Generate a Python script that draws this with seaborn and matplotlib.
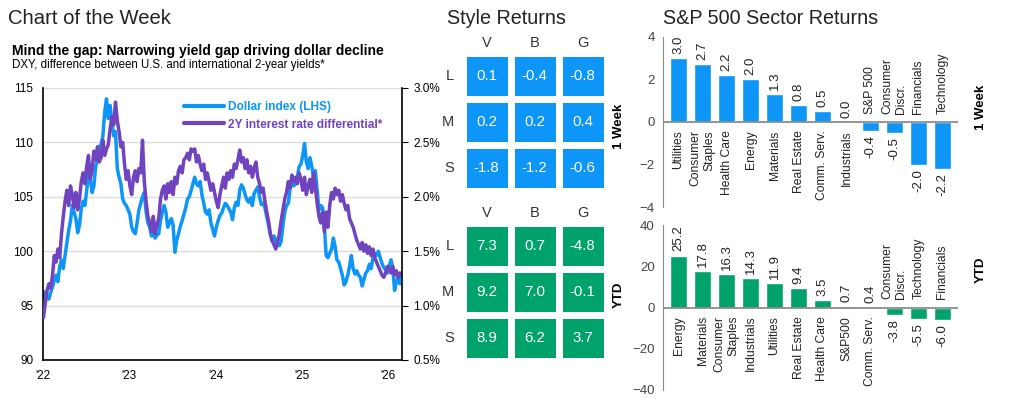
import matplotlib
matplotlib.use("Agg")
import matplotlib.pyplot as plt
from matplotlib.colors import ListedColormap
from matplotlib.lines import Line2D
import pandas as pd
import seaborn as sns

# ---- datos ----
# DXY (LHS), ~4 lecturas por mes, ene-2022 .. feb-2026
dxy = [
    96.3, 95.7, 95.9, 95.6,  96.2, 96.7, 97.3, 97.8,  97.2, 98.6, 99.2, 98.4,
    99.6, 100.8, 101.9, 102.8,  104.2, 103.6, 103.0, 101.7,  102.4, 103.9, 104.6, 104.2,
    105.6, 107.2, 106.6, 105.4,  106.0, 107.8, 108.4, 109.6,  109.8, 110.6, 112.8, 114.0,
    112.2, 113.4, 111.8, 110.6,  111.0, 107.6, 106.8, 106.2,  104.8, 104.4, 104.2, 103.8,
    103.4, 102.2, 101.8, 101.6,  102.6, 103.8, 104.4, 105.0,  105.4, 103.6, 102.6, 102.2,
    101.4, 102.0, 101.2, 101.5,  101.6, 102.8, 103.6, 104.2,  103.6, 102.2, 102.6, 103.0,
    102.4, 99.9, 101.0, 101.6,  102.3, 102.8, 103.4, 104.0,  104.8, 105.0, 105.6, 106.2,
    106.8, 106.2, 106.0, 106.4,  105.2, 104.4, 103.6, 103.4,  103.8, 102.6, 102.0, 101.4,
    102.2, 102.8, 103.3, 103.5,  104.0, 104.4, 104.2, 103.9,  103.6, 102.9, 104.0, 104.5,
    104.2, 105.6, 106.1, 105.8,  105.2, 104.7, 104.5, 104.9,  104.2, 105.3, 105.6, 105.9,
    105.0, 104.3, 104.4, 104.0,  103.2, 102.4, 101.5, 100.9,  101.4, 101.0, 100.7, 100.5,
    100.9, 102.4, 103.6, 104.2,  104.4, 105.8, 106.6, 106.0,  106.2, 106.8, 107.8, 108.0,
    108.8, 109.9, 108.2, 107.6,  108.6, 107.8, 106.8, 107.4,  105.6, 103.8, 104.2, 104.0,
    102.4, 99.6, 99.4, 99.8,  100.2, 101.2, 100.4, 99.2,  99.0, 98.4, 97.8, 96.9,
    97.2, 97.8, 98.6, 99.6,  98.4, 97.9, 98.2, 97.8,  97.6, 96.8, 97.4, 98.0,
    98.2, 98.8, 98.4, 99.4,  99.8, 99.6, 100.0, 99.4,  98.9, 98.5, 98.3, 98.0,
    98.6, 99.2, 98.5, 96.4,  97.2, 97.6, 97.0, 97.7,
]
# diferencial de tipos a 2 años (RHS, %)
diferencial = [
    0.89, 1.02, 1.14, 1.20,  1.16, 1.28, 1.46, 1.40,  1.52, 1.44, 1.66, 1.82,
    1.96, 2.06, 1.92, 2.10,  2.02, 1.90, 2.04, 1.88,  1.98, 2.14, 2.22, 2.12,
    2.28, 2.38, 2.16, 2.24,  2.42, 2.34, 2.46, 2.32,  2.36, 2.52, 2.38, 2.44,
    2.48, 2.62, 2.74, 2.66,  2.87, 2.70, 2.60, 2.46,  2.50, 2.30, 2.16, 2.24,
    2.10, 2.02, 2.18, 2.24,  2.14, 2.26, 2.22, 2.52,  2.14, 1.96, 1.82, 1.76,
    1.68, 1.82, 1.66, 1.74,  1.80, 1.98, 2.06, 2.10,  1.98, 2.12, 2.04, 2.14,
    2.02, 2.18, 2.12, 2.24,  2.28, 2.22, 2.34, 2.36,  2.40, 2.34, 2.44, 2.42,
    2.44, 2.32, 2.38, 2.30,  2.24, 2.30, 2.16, 2.22,  2.14, 2.06, 2.12, 2.04,
    1.96, 1.90, 2.02, 2.10,  2.18, 2.08, 2.22, 2.16,  2.24, 2.18, 2.30, 2.26,
    2.34, 2.43, 2.32, 2.36,  2.26, 2.34, 2.22, 2.28,  2.18, 2.26, 2.32, 2.18,
    2.12, 2.04, 2.08, 1.96,  1.86, 1.78, 1.66, 1.60,  1.56, 1.52, 1.58, 1.66,
    1.78, 1.88, 1.98, 2.04,  2.14, 2.08, 2.20, 2.14,  2.18, 2.12, 2.22, 2.16,
    2.06, 2.18, 2.02, 2.10,  2.16, 2.04, 2.22, 2.10,  1.94, 1.82, 1.76, 1.86,
    1.68, 1.86, 1.72, 1.92,  2.04, 1.98, 2.08, 2.02,  2.06, 1.96, 2.02, 1.94,
    1.88, 1.92, 1.80, 1.76,  1.72, 1.66, 1.60, 1.56,  1.52, 1.58, 1.50, 1.56,
    1.48, 1.54, 1.46, 1.52,  1.44, 1.40, 1.36, 1.32,  1.28, 1.26, 1.30, 1.36,
    1.34, 1.30, 1.36, 1.28,  1.32, 1.26, 1.30, 1.28,
]
fechas = pd.date_range("2022-01-03", "2026-02-27", periods=len(dxy))
anios = ["2022", "2023", "2024", "2025", "2026"]
etiquetas_anio = ["'22", "'23", "'24", "'25", "'26"]

estilo_cols = ["V", "B", "G"]
estilo_filas = ["L", "M", "S"]
estilo_1w = [[0.1, -0.4, -0.8], [0.2, 0.2, 0.4], [-1.8, -1.2, -0.6]]
estilo_ytd = [[7.3, 0.7, -4.8], [9.2, 7.0, -0.1], [8.9, 6.2, 3.7]]

sect_1w = ["Utilities", "Consumer\nStaples", "Health Care", "Energy", "Materials",
           "Real Estate", "Comm. Serv.", "Industrials", "S&P 500",
           "Consumer\nDiscr.", "Financials", "Technology"]
ret_1w = [3.0, 2.7, 2.2, 2.0, 1.3, 0.8, 0.5, 0.0, -0.4, -0.5, -2.0, -2.2]
sect_ytd = ["Energy", "Materials", "Consumer\nStaples", "Industrials", "Utilities",
            "Real Estate", "Health Care", "S&P500", "Comm. Serv.",
            "Consumer\nDiscr.", "Technology", "Financials"]
ret_ytd = [25.2, 17.8, 16.3, 14.3, 11.9, 9.4, 3.5, 0.7, 0.4, -3.8, -5.5, -6.0]

# ---- estilo ----
sns.set_style("white")
plt.rcParams["font.family"] = ["Liberation Sans", "DejaVu Sans"]
AZUL = "#0D95F8"
MORADO = "#7044BE"
VERDE = "#00A26B"
TXT = "#222222"
GRIS = "#8c8c8c"

fig = plt.figure(figsize=(10.09, 3.99), dpi=100)
W, H = 1009, 399


def caja(x0, y0, x1, y1):
    # px -> fracción de figura
    return [x0 / W, 1 - y1 / H, (x1 - x0) / W, (y1 - y0) / H]


# Títulos
fig.text(8 / W, 1 - 18 / H, "Chart of the Week", fontsize=14.6, color=TXT, va="center")
fig.text(447 / W, 1 - 18 / H, "Style Returns", fontsize=14.2, color=TXT, va="center")
fig.text(663 / W, 1 - 18 / H, "S&P 500 Sector Returns", fontsize=14.2, color=TXT, va="center")
fig.text(12 / W, 1 - 51 / H, "Mind the gap: Narrowing yield gap driving dollar decline",
         fontsize=10, weight="bold", color="black", va="center")
fig.text(12 / W, 1 - 65 / H, "DXY, difference between U.S. and international 2-year yields*",
         fontsize=8.3, color="black", va="center")

# ---- Gráfico 1: DXY vs diferencial ----
ax = fig.add_axes(caja(43, 88, 402, 360))
sns.lineplot(x=fechas, y=dxy, ax=ax, color=AZUL, lw=2.5)
ax.set_ylim(90, 115)
ax.set_yticks([90, 95, 100, 105, 110, 115])
ax.set_xlim(pd.Timestamp("2022-01-01"), pd.Timestamp("2026-02-28"))
ax.set_xticks([pd.Timestamp(a + "-01-01") for a in anios])
ax.set_xticklabels(etiquetas_anio)
ax.grid(axis="y", color="#dcdcdc", lw=1)
ax.tick_params(axis="y", length=0, pad=7, labelsize=8.5, colors="black")
ax.tick_params(axis="x", length=3, direction="out", pad=4, labelsize=8.5, colors="black")
for s in ["left", "bottom"]:
    ax.spines[s].set_color("black")
    ax.spines[s].set_linewidth(1.2)
ax.spines["top"].set_visible(False)
ax.spines["right"].set_visible(False)
ax.set_xlabel("")
ax.set_ylabel("")

ax2 = ax.twinx()
sns.lineplot(x=fechas, y=diferencial, ax=ax2, color=MORADO, lw=2.5)
ax2.set_ylim(0.5, 3.0)
ax2.set_yticks([0.5, 1.0, 1.5, 2.0, 2.5, 3.0])
ax2.set_yticklabels([f"{t:.1f}%" for t in ax2.get_yticks()])
ax2.tick_params(axis="y", length=4, direction="out", pad=4, labelsize=8.5, colors="black")
ax2.spines["right"].set_color("black")
ax2.spines["right"].set_linewidth(1.2)
for s in ["top", "left", "bottom"]:
    ax2.spines[s].set_visible(False)
ax2.set_ylabel("")
ax2.grid(False)

handles = [Line2D([], [], color=AZUL, lw=3), Line2D([], [], color=MORADO, lw=3)]
leg = ax2.legend(handles, ["Dollar index (LHS)", "2Y interest rate differential*"],
                 loc="upper left", bbox_to_anchor=(0.385, 0.96), frameon=False,
                 fontsize=8.6, handlelength=3.4, handletextpad=0.35, labelspacing=0.45,
                 borderaxespad=0, borderpad=0.2)
for t, c in zip(leg.get_texts(), [AZUL, MORADO]):
    t.set_color(c)
    t.set_fontweight("bold")

# ---- Style returns (heatmaps) ----
def mapa(datos, color, rect):
    axh = fig.add_axes(rect)
    df = pd.DataFrame(datos, index=estilo_filas, columns=estilo_cols)
    sns.heatmap(df, ax=axh, cmap=ListedColormap([color]), cbar=False, annot=True,
                fmt=".1f", linewidths=5, linecolor="white",
                annot_kws={"color": "white", "fontsize": 10.8})
    axh.xaxis.tick_top()
    axh.tick_params(length=0, labelsize=10.5, colors="#333333")
    axh.tick_params(axis="x", pad=2)
    axh.tick_params(axis="y", pad=6, rotation=0)
    axh.set_xlabel("")
    axh.set_ylabel("")
    return axh


mapa(estilo_1w, AZUL, caja(462.5, 52.5, 606.5, 190.5))
mapa(estilo_ytd, VERDE, caja(462.5, 222.5, 606.5, 360.5))
fig.text(619 / W, 1 - 126 / H, "1 Week", rotation=90, fontsize=9.5, weight="bold",
         ha="center", va="center", color="black")
fig.text(619 / W, 1 - 295 / H, "YTD", rotation=90, fontsize=9.5, weight="bold",
         ha="center", va="center", color="black")

# ---- Sector returns (barras) ----
def barras(cats, vals, color, rect, lim, paso):
    axb = fig.add_axes(rect)
    sns.barplot(x=cats, y=vals, ax=axb, color=color, width=0.7, saturation=1)
    axb.set_xlim(-0.65, 11.65)
    axb.set_ylim(-lim, lim)
    axb.set_yticks(range(-lim, lim + 1, paso))
    axb.set_xticks([])
    axb.axhline(0, color=GRIS, lw=1.3)
    for s in ["top", "right", "bottom"]:
        axb.spines[s].set_visible(False)
    axb.spines["left"].set_color(GRIS)
    axb.tick_params(axis="y", length=4, direction="out", color=GRIS, labelsize=9.5,
                    labelcolor="#444444", pad=2)
    for i, (c, v) in enumerate(zip(cats, vals)):
        if v >= 0:
            axb.annotate(c, (i, 0), xytext=(0, -6), textcoords="offset points", rotation=90,
                         ha="center", va="top", multialignment="right", fontsize=8.7, color=TXT)
            axb.annotate(f"{v:.1f}", (i, v), xytext=(0, 3), textcoords="offset points",
                         rotation=90, ha="center", va="bottom", fontsize=9.5, color=TXT)
        else:
            axb.annotate(c, (i, 0), xytext=(0, 6), textcoords="offset points", rotation=90,
                         ha="center", va="bottom", multialignment="left", fontsize=8.7, color=TXT)
            axb.annotate(f"{v:.1f}", (i, v), xytext=(0, -3), textcoords="offset points",
                         rotation=90, ha="center", va="top", fontsize=9.5, color=TXT)
    axb.set_xlabel("")
    axb.set_ylabel("")
    return axb


barras(sect_1w, ret_1w, AZUL, caja(663, 36.7, 958, 207.3), 4, 2)
barras(sect_ytd, ret_ytd, VERDE, caja(663, 225, 958, 390), 40, 20)
fig.text(981 / W, 1 - 107 / H, "1 Week", rotation=90, fontsize=9.5, weight="bold",
         ha="center", va="center", color="black")
fig.text(981 / W, 1 - 270 / H, "YTD", rotation=90, fontsize=9.5, weight="bold",
         ha="center", va="center", color="black")

fig.savefig("out.png", dpi=100)
